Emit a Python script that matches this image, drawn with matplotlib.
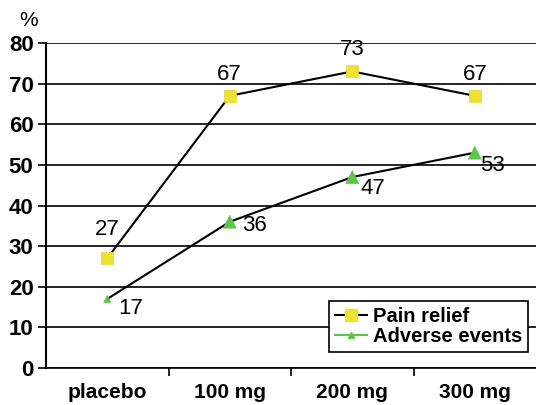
import matplotlib
matplotlib.use('Agg')
import matplotlib.pyplot as plt
from matplotlib.lines import Line2D

plt.rcParams['font.family'] = ['Liberation Sans', 'DejaVu Sans']

doses = ['placebo', '100 mg', '200 mg', '300 mg']
pain_relief = [27, 67, 73, 67]
adverse_events = [17, 36, 47, 53]

x = list(range(len(doses)))

fig = plt.figure(figsize=(5.36, 4.05), dpi=100)
ax = fig.add_axes([46/536, 1-368/405, 1-46/536, (368-43)/405])

# gridlines
for v in range(0, 81, 10):
    ax.axhline(v, color='black', lw=1.2, zorder=1)

ax.plot(x, pain_relief, color='black', lw=1.5, zorder=2)
ax.plot(x, adverse_events, color='black', lw=1.5, zorder=2)
ax.scatter(x, pain_relief, marker='s', s=75, color='#EEE133', edgecolor='#E5D830', lw=0.5, zorder=3)
ax.scatter(x, adverse_events, marker='^', s=[25, 85, 85, 85], color='#5DC64A', edgecolor='#5DC64A', lw=0.5, zorder=3)

# labels above the squares (placebo one sits a bit higher)
offs_p = [(0, 13), (0, 8), (0, 8), (0, 8)]
for xi, v, o in zip(x, pain_relief, offs_p):
    ax.annotate(str(v), (xi, v), xytext=o, textcoords='offset points',
                ha='center', va='bottom', fontsize=16)
offs_a = [(8, -7), (9, -3), (6, -8), (4, -9)]
for xi, v, o in zip(x, adverse_events, offs_a):
    ax.annotate(str(v), (xi, v), xytext=o, textcoords='offset points',
                ha='left', va='center', fontsize=16)

ax.set_xlim(-0.5, 3.5)
ax.set_ylim(0, 80)
ax.set_yticks(range(0, 81, 10))
ax.set_xticks(x)
ax.set_xticklabels(doses, fontweight='bold', fontsize=15)
ax.set_xticks([0.5, 1.5, 2.5], minor=True)
ax.tick_params(axis='x', which='major', length=0, pad=11)
ax.tick_params(axis='x', which='minor', length=6, width=1.2, direction='out')
ax.tick_params(axis='y', length=6, width=1.2, labelsize=16, pad=3)
for t in ax.get_yticklabels():
    t.set_fontweight('bold')

for s in ['top', 'right']:
    ax.spines[s].set_visible(False)
ax.spines['left'].set_linewidth(1.5)
ax.spines['bottom'].set_linewidth(1.2)

fig.text(19/536, 1-20/405, '%', fontsize=15, va='center')

handles = [
    Line2D([], [], color='black', lw=1.5, marker='s', markersize=8,
           markerfacecolor='#EEE133', markeredgecolor='#EEE133'),
    Line2D([], [], color='#5DC64A', lw=1.5, marker='^', markersize=5,
           markerfacecolor='#5DC64A', markeredgecolor='#5DC64A'),
]
leg = ax.legend(handles, ['Pain relief', 'Adverse events'], loc='lower right',
                bbox_to_anchor=(0.984, 0.049), frameon=True, fancybox=False,
                edgecolor='black', framealpha=1, handlelength=1.6, handletextpad=0.3,
                borderpad=0.3, labelspacing=0.05, borderaxespad=0,
                prop={'weight': 'bold', 'size': 14.5})
leg.get_frame().set_linewidth(1.2)
leg.set_zorder(5)

fig.savefig('out.png', dpi=100)
